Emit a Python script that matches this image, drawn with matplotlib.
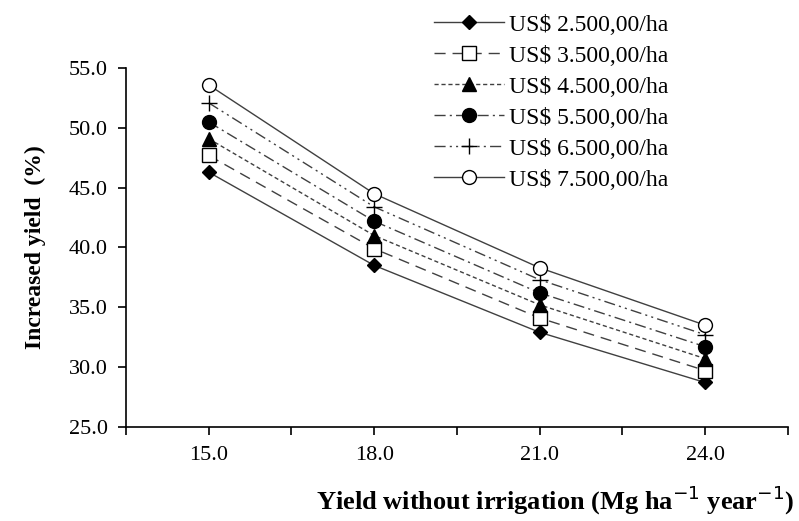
import matplotlib
matplotlib.use("Agg")
import matplotlib.pyplot as plt

plt.rcParams["font.family"] = ["Liberation Serif", "DejaVu Serif"]

yield_no_irr = [15.0, 18.0, 21.0, 24.0]
cost_labels = [r"US\$ 2.500,00/ha", r"US\$ 3.500,00/ha", r"US\$ 4.500,00/ha",
               r"US\$ 5.500,00/ha", r"US\$ 6.500,00/ha", r"US\$ 7.500,00/ha"]
inc_2500 = [46.3, 38.5, 32.9, 28.7]
inc_3500 = [47.7, 39.9, 34.1, 29.7]
inc_4500 = [49.1, 41.0, 35.2, 30.7]
inc_5500 = [50.5, 42.2, 36.2, 31.7]
inc_6500 = [52.1, 43.4, 37.3, 32.7]
inc_7500 = [53.6, 44.5, 38.3, 33.5]
series = [inc_2500, inc_3500, inc_4500, inc_5500, inc_6500, inc_7500]

styles = [
    dict(ls="-", marker="D", mfc="black", ms=7),
    dict(ls=(0, (8, 5)), marker="s", mfc="white", ms=10),
    dict(ls=(0, (3, 2)), marker="^", mfc="black", ms=10),
    dict(ls=(0, (8, 3, 1.5, 3)), marker="o", mfc="black", ms=10),
    dict(ls=(0, (8, 3, 1.5, 3, 1.5, 3)), marker="+", mfc="black", ms=12),
    dict(ls="-", marker="o", mfc="white", ms=10),
]

fig = plt.figure(figsize=(7.99, 5.21), dpi=100)
ax = fig.add_axes([0.1577, 0.181, 0.8283, 0.688])

for vals, lab, st in zip(series, cost_labels, styles):
    ax.plot(yield_no_irr, vals, color="0.25", lw=1.0, mec="black", mew=1.0,
            label=lab, **st)

ax.set_xlim(13.5, 25.5)
ax.set_ylim(25, 55)
xt = [13.5 + 1.5 * i for i in range(9)]
ax.set_xticks(xt)
ax.set_xticklabels([f"{v:.1f}" if v in yield_no_irr else "" for v in xt])
ax.set_yticks([25, 30, 35, 40, 45, 50, 55])
ax.set_yticklabels([f"{v:.1f}" for v in [25, 30, 35, 40, 45, 50, 55]])
ax.tick_params(labelsize=16, length=6, width=1.2, direction="out", colors="black")
ax.tick_params(axis="x", pad=8)
ax.tick_params(axis="y", pad=7)
for s in ["top", "right"]:
    ax.spines[s].set_visible(False)
for s in ["left", "bottom"]:
    ax.spines[s].set_linewidth(1.2)

fig.text(0.995, 0.04, "Yield without irrigation (Mg ha$^{-1}$ year$^{-1}$)",
         ha="right", va="center", fontsize=19, fontweight="bold")
fig.text(0.044, 0.525, "Increased yield  (%)", rotation=90, ha="center",
         va="center", fontsize=17, fontweight="bold")

fig.legend(loc="upper left", bbox_to_anchor=(0.525, 1.0), frameon=False,
           fontsize=17, handlelength=3.0, handletextpad=0.2, labelspacing=0.4,
           borderpad=0.1)

fig.savefig("out.png", dpi=100)
